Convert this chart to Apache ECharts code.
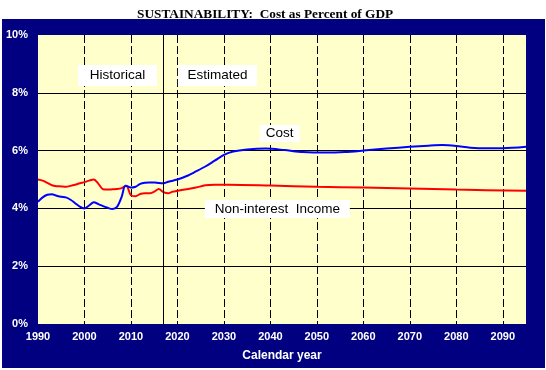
<!DOCTYPE html>
<html><head><meta charset="utf-8">
<script src="https://cdn.jsdelivr.net/npm/echarts@6/dist/echarts.min.js"></script>
<style>html,body{margin:0;padding:0;background:#fff;}#c{width:546px;height:370px;}</style>
</head><body><div id="c"></div>
<script>
const costYears = [1990,1991,1992,1993,1994,1995,1996,1997,1998,1999,2000,2001,2002,2003,2004,2005,2006,2007,2008,2008.8,2009.5,2010,2011,2012,2013,2014,2015,2016,2017,2018,2019,2020,2022,2024,2026,2028,2030,2032,2035,2039,2043,2047,2052,2056,2060,2065,2070,2074,2077,2080,2083,2087,2090,2095];
const costValues = [4.23,4.38,4.47,4.49,4.44,4.40,4.38,4.30,4.18,4.06,4.00,4.10,4.21,4.15,4.08,4.02,3.98,4.05,4.40,4.78,4.75,4.72,4.75,4.85,4.89,4.90,4.90,4.88,4.87,4.92,4.96,5.00,5.12,5.28,5.45,5.65,5.85,5.97,6.04,6.07,6.02,5.95,5.93,5.95,6.00,6.07,6.13,6.17,6.19,6.16,6.10,6.08,6.08,6.13];
const incomeYears = [1990,1991,1992,1993,1994,1995,1996,1997,1998,1999,2000,2001,2002,2003,2004,2005,2006,2007,2008,2009,2010,2011,2012,2013,2014,2015,2016,2017,2018,2019,2020,2022,2024,2026,2028,2031,2040,2050,2060,2070,2080,2095];
const incomeValues = [5.00,4.96,4.88,4.80,4.77,4.76,4.75,4.78,4.82,4.87,4.91,4.96,5.00,4.85,4.66,4.65,4.66,4.67,4.70,4.78,4.45,4.42,4.50,4.52,4.52,4.58,4.67,4.56,4.52,4.58,4.61,4.66,4.72,4.80,4.82,4.82,4.79,4.75,4.72,4.69,4.65,4.61];
const yearTicks = [1990,2000,2010,2020,2030,2040,2050,2060,2070,2080,2090];
const dividerYear = 2017;
const annotations = [
  {text:'Historical', x:2007.1, y:8.6, w:79, h:21},
  {text:'Estimated', x:2028.6, y:8.6, w:79, h:21},
  {text:'Cost', x:2042, y:6.59, w:40, h:17},
  {text:'Non-interest  Income', x:2041.5, y:3.98, w:145, h:18}
];

const chart = echarts.init(document.getElementById('c'), null, {renderer:'canvas'});
const zip = (a,b)=>a.map((v,i)=>[v,b[i]]);
const option = {
  animation:false,
  backgroundColor:'#ffffff',
  title:{text:'SUSTAINABILITY:  Cost as Percent of GDP', left:132, top:3,
    textStyle:{fontFamily:'Liberation Serif', fontWeight:'bold', fontSize:13.3, color:'#000'}},
  graphic:[{type:'rect', z:-10, shape:{x:2,y:19,width:543,height:349}, style:{fill:'#000080'}}],
  grid:{left:38, right:20, top:35, bottom:46, show:true, backgroundColor:'#ffffcc', borderWidth:0},
  xAxis:{type:'value', min:1990, max:2095, interval:10,
    name:'Calendar year', nameLocation:'middle', nameGap:26,
    nameTextStyle:{color:'#fff', fontFamily:'Liberation Sans', fontWeight:'bold', fontSize:12},
    axisLine:{show:false}, axisTick:{show:false},
    axisLabel:{color:'#fff', fontFamily:'Liberation Sans', fontWeight:'bold', fontSize:11, margin:7,
      formatter:v=> yearTicks.indexOf(v)>=0 ? String(v) : ''},
    splitLine:{show:true, showMinLine:false, showMaxLine:false, lineStyle:{color:'#000', width:1, type:[8,3]}}},
  yAxis:{type:'value', min:0, max:10, interval:2,
    axisLine:{show:false}, axisTick:{show:false},
    axisLabel:{color:'#fff', fontFamily:'Liberation Sans', fontWeight:'bold', fontSize:11, margin:10, formatter:'{value}%'},
    splitLine:{show:true, showMinLine:false, showMaxLine:false, lineStyle:{color:'#000', width:1}}},
  series:[
    {type:'line', name:'Cost', data:zip(costYears,costValues), smooth:0.3, showSymbol:false,
      lineStyle:{color:'#0000ff', width:2}, z:3,
      markLine:{silent:true, symbol:'none', label:{show:false}, lineStyle:{color:'#000', width:1, type:'solid'},
        data:[{xAxis:dividerYear}]},
      markPoint:{silent:true, data:annotations.map(a=>({coord:[a.x,a.y], symbol:'rect', symbolSize:[a.w,a.h],
        itemStyle:{color:'#fff'},
        label:{show:true, position:'inside', formatter:a.text, color:'#000', fontFamily:'Liberation Sans', fontSize:13.5}}))}
    },
    {type:'line', name:'Non-interest Income', data:zip(incomeYears,incomeValues), smooth:0.3, showSymbol:false,
      lineStyle:{color:'#ff0000', width:2}, z:2}
  ]
};
chart.setOption(option);
</script></body></html>
